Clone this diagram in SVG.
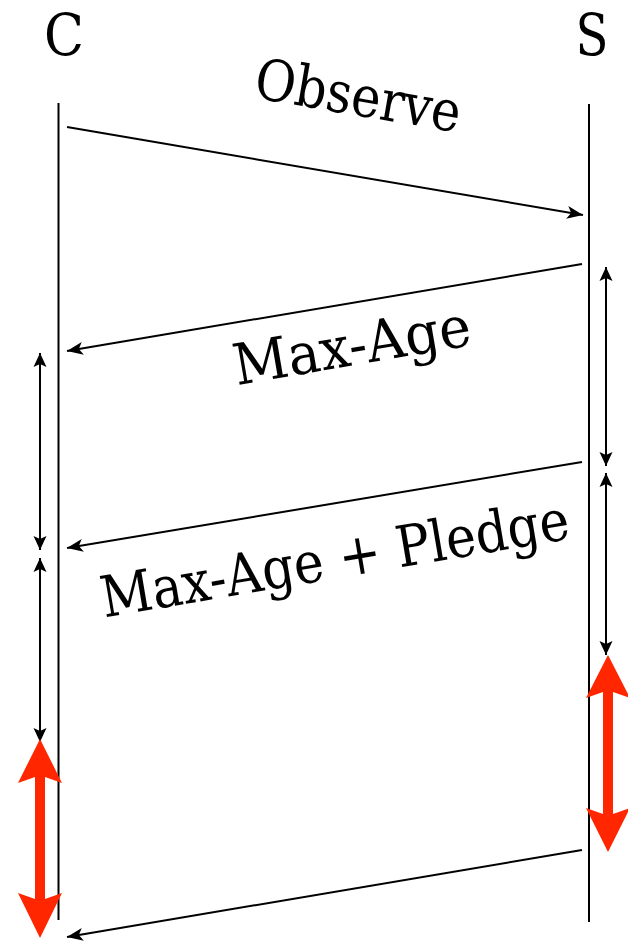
<svg xmlns="http://www.w3.org/2000/svg" width="628" height="942" viewBox="0 0 628 942">
<style>
text{font-family:'DejaVu Serif','Liberation Serif',serif;font-size:57px;fill:#000;text-anchor:middle}
.life{stroke:#000;stroke-width:2;fill:none}
.msg{stroke:#000;stroke-width:2;fill:none;marker-end:url(#ah)}
.span{stroke:#000;stroke-width:2;fill:none;marker-start:url(#sh);marker-end:url(#sh)}
.red{fill:#ff2600;stroke:none}
</style>
<defs>
<marker id="ah" markerUnits="userSpaceOnUse" markerWidth="20" markerHeight="16" viewBox="-17 -8 20 16" refX="0" refY="0" orient="auto">
<path d="M0,0 L-16,-6.5 L-12,0 L-16,6.5 Z" fill="#000"/>
</marker>
<marker id="sh" markerUnits="userSpaceOnUse" markerWidth="20" markerHeight="16" viewBox="-17 -8 20 16" refX="0" refY="0" orient="auto-start-reverse">
<path d="M0,0 L-14,-6.5 L-11,0 L-14,6.5 Z" fill="#000"/>
</marker>
</defs>
<g id="C">
<text x="64" y="55" textLength="40" lengthAdjust="spacingAndGlyphs">C</text>
<line class="life" x1="58.5" y1="103" x2="58.5" y2="920"/>
</g>
<g id="S">
<text x="592" y="55" textLength="33" lengthAdjust="spacingAndGlyphs">S</text>
<line class="life" x1="589" y1="104" x2="589" y2="922"/>
</g>
<g id="connectors">
<line class="msg" x1="67" y1="127" x2="583" y2="215"/>
<line class="msg" x1="582" y1="264" x2="67" y2="351"/>
<line class="msg" x1="582" y1="462" x2="67" y2="548"/>
<line class="msg" x1="582" y1="850" x2="67" y2="937"/>
<line class="span" x1="40" y1="353" x2="40" y2="550"/>
<line class="span" x1="40" y1="558" x2="40" y2="742"/>
<line class="span" x1="606" y1="267" x2="606" y2="466"/>
<line class="span" x1="606" y1="473" x2="606" y2="655"/>
</g>
<g id="labels">
<text transform="rotate(9.7 355 115)" x="355" y="115" textLength="208" lengthAdjust="spacingAndGlyphs">Observe</text>
<text transform="rotate(-9.7 355 365)" x="355" y="365" textLength="240" lengthAdjust="spacingAndGlyphs">Max-Age</text>
<text transform="rotate(-9.6 338 578)" x="338" y="578" textLength="474" lengthAdjust="spacingAndGlyphs">Max-Age + Pledge</text>
</g>
<g id="red-left">
<path class="red" d="M40,739 L62,783 L45,777 L45,899 L62,893 L40,938 L18,893 L35,899 L35,777 L18,783 Z"/>
</g>
<g id="red-right">
<path class="red" d="M608,655 L630,698 L613,692 L613,814 L630,808 L608,852 L586,808 L603,814 L603,692 L586,698 Z"/>
</g>
</svg>
